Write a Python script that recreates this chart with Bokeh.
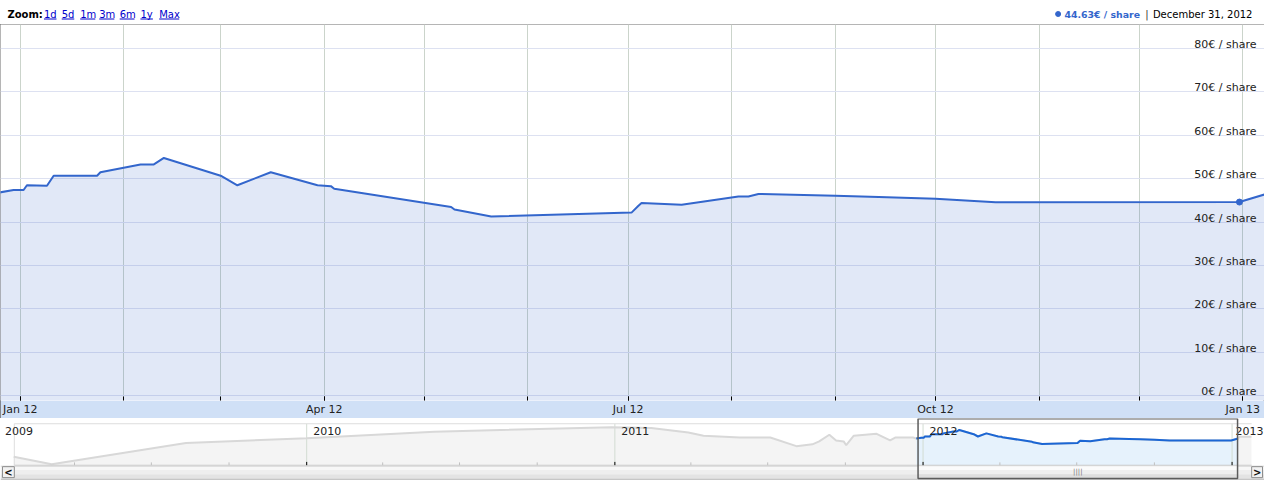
import pandas as pd
from bokeh.plotting import figure
from bokeh.layouts import column
from bokeh.models import Range1d, FixedTicker, DatetimeTickFormatter
from bokeh.core.properties import value
from bokeh.embed import file_html
from bokeh.resources import INLINE

# ---------------- data ----------------
hist_dates = ["2009-01-19", "2009-03-05", "2009-08-11", "2010-01-01", "2010-04-16",
              "2010-06-01", "2010-12-28", "2011-02-13", "2011-03-29", "2011-04-16",
              "2011-05-29", "2011-07-04", "2011-08-04", "2011-08-23", "2011-08-31",
              "2011-09-12", "2011-09-20", "2011-09-29", "2011-10-02", "2011-10-11",
              "2011-11-07", "2011-11-23", "2011-11-29", "2011-12-20"]
hist_values = [29.1, 21.8, 42.2, 46.8, 51.1, 53.0, 57.5, 56.6, 52.3, 49.3,
               47.5, 47.5, 39.2, 41.0, 43.8, 50.2, 44.7, 43.8, 40.1, 49.3,
               51.1, 44.7, 47.5, 47.5]

price_dates = ["2011-12-24", "2011-12-30", "2012-01-02", "2012-01-03", "2012-01-09",
               "2012-01-11", "2012-01-24", "2012-01-25", "2012-02-06", "2012-02-10",
               "2012-02-13", "2012-03-01", "2012-03-06", "2012-03-16", "2012-03-30",
               "2012-04-03", "2012-04-04", "2012-05-09", "2012-05-10", "2012-05-21",
               "2012-07-02", "2012-07-04", "2012-07-05", "2012-07-17", "2012-08-03",
               "2012-08-06", "2012-08-09", "2012-09-01", "2012-09-14", "2012-10-01",
               "2012-10-19", "2012-12-31", "2013-01-08"]
price_values = [46.6, 47.4, 47.4, 48.5, 48.4, 50.7, 50.7, 51.5, 53.3, 53.3,
                54.8, 50.7, 48.5, 51.5, 48.5, 48.3, 47.7, 43.5, 42.9, 41.3,
                42.2, 43.7, 44.4, 44.0, 45.9, 45.9, 46.5, 46.1, 45.8, 45.4,
                44.6, 44.63, 46.5]

after_dates = ["2013-01-10", "2013-01-24"]
after_values = [48.2, 48.3]

current_date = ["2012-12-31"]
current_value = [44.63]

y_ticks = [0, 10, 20, 30, 40, 50, 60, 70, 80]
y_labels = [f"{v}€ / share" for v in y_ticks]
zoom_links = ["1d", "5d", "1m", "3m", "6m", "1y", "Max"]
nav_year_labels = ["2009", "2010", "2011", "2012", "2013"]
header_value = "44.63€ / share"
header_date = "December 31, 2012"

# ---------------- layout helpers ----------------
W = 1264
HEAD_H, MAIN_H, NAV_H = 24, 394, 62
SX = W / 1280.0
FONT = "DejaVu Sans"


def ms(ts):
    return pd.Timestamp(ts).value / 1e6


JAN12 = pd.Timestamp("2012-01-01")


def main_date(ref_x):
    return JAN12 + pd.Timedelta(days=(ref_x - 20) / 3.3825)


def main_val(ref_y):
    return (410 - ref_y) / 4.5


BASE09 = pd.Timestamp("2009-01-01")


def nav_date(ref_x):
    return BASE09 + pd.Timedelta(days=(ref_x + 2) / 0.855)


def nav_val(ref_y):
    return 54.8 - (ref_y - 443) / 1.09


main_x0, main_x1 = main_date(0), main_date(1280)

# ---------------- header ----------------
h = figure(width=W, height=HEAD_H, x_range=Range1d(0, W), y_range=Range1d(0, HEAD_H),
           min_border=0, outline_line_color=None, toolbar_location=None,
           output_backend="svg", x_axis_location=None, y_axis_location=None)
h.grid.visible = False
ymid = HEAD_H - 13.5
h.text(x=[7 * SX], y=[ymid], text=["Zoom:"], text_font=value(FONT), text_font_size="10px",
       text_font_style="bold", text_color="#000000", text_baseline="middle", text_align="left")
link_x = [44, 62, 80.7, 100, 120.7, 141.7, 160.7]
link_w = [12.7, 12.7, 15.3, 15.3, 15.0, 12.6, 20.3]
h.text(x=[v * SX for v in link_x], y=[ymid] * len(zoom_links), text=zoom_links,
       text_font=value(FONT), text_font_size="10px", text_color="#0000cc",
       text_baseline="middle", text_align="left")
h.segment(x0=[v * SX for v in link_x], x1=[(v + w) * SX for v, w in zip(link_x, link_w)],
          y0=[HEAD_H - 18.5] * len(link_x), y1=[HEAD_H - 18.5] * len(link_x),
          line_color="#0000cc", line_width=1)
h.scatter(x=[1071 * SX], y=[ymid], size=5, color="#3366cc")
h.text(x=[1154 * SX], y=[ymid], text=[header_value], text_font=value(FONT),
       text_font_size="9.4px", text_font_style="bold", text_color="#3366cc",
       text_baseline="middle", text_align="right")
h.text(x=[1161 * SX], y=[ymid], text=["|"], text_font=value(FONT), text_font_size="10px",
       text_color="#333333", text_baseline="middle", text_align="center")
h.text(x=[1167 * SX], y=[ymid], text=[header_date], text_font=value(FONT),
       text_font_size="10px", text_color="#000000", text_baseline="middle", text_align="left")

# ---------------- main chart ----------------
p = figure(width=W, height=MAIN_H, x_axis_type="datetime",
           x_range=Range1d(ms(main_x0), ms(main_x1)),
           y_range=Range1d(main_val(415), main_val(25)),
           min_border=0, min_border_bottom=16, border_fill_color="#d0e0f6",
           background_fill_color="#ffffff", outline_line_color=None,
           toolbar_location=None, output_backend="svg", y_axis_location=None)
p.styles = {"outline": "1px solid #6a6a6a", "outline-offset": "-1px"}

months = [ms(t) for t in pd.date_range("2012-01-01", "2013-01-01", freq="MS")]
quarters = [ms(t) for t in pd.date_range("2012-01-01", "2013-01-01", freq="QS")]

p.xgrid.ticker = FixedTicker(ticks=months)
p.xgrid.grid_line_color = "#cbd4cb"
p.ygrid.ticker = FixedTicker(ticks=y_ticks)
p.ygrid.grid_line_color = "#dde1f1"

p.xaxis.ticker = FixedTicker(ticks=quarters, minor_ticks=months)
p.xaxis.formatter = DatetimeTickFormatter(days="%b %y", months="%b %y", years="%b %y",
                                          hours="%b %y", minutes="%b %y")
p.xaxis.major_tick_in = 4
p.xaxis.major_tick_out = 0
p.xaxis.minor_tick_in = 4
p.xaxis.minor_tick_out = 0
p.xaxis.major_tick_line_color = "#000000"
p.xaxis.minor_tick_line_color = "#000000"
p.xaxis.axis_line_color = None
p.xaxis.major_label_standoff = 2
p.xaxis.major_label_text_font = FONT
p.xaxis.major_label_text_font_size = "11px"
p.xaxis.major_label_text_color = "#222222"

px = pd.to_datetime(price_dates)
p.varea(x=px, y1=main_val(415), y2=price_values, fill_color="#3366cc", fill_alpha=0.15)
p.line(x=px, y=price_values, line_color="#3366cc", line_width=2)
p.scatter(x=pd.to_datetime(current_date), y=current_value, size=6, color="#3366cc")
p.text(x=[ms(main_x1)] * len(y_ticks), y=y_ticks, text=y_labels, text_font=value(FONT),
       text_font_size="11px", text_color="#222222", text_align="right",
       text_baseline="alphabetic", x_offset=-8, y_offset=-4)

# ---------------- navigator ----------------
n = figure(width=W, height=NAV_H, x_axis_type="datetime",
           x_range=Range1d(ms(nav_date(0)), ms(nav_date(1280))),
           y_range=Range1d(nav_val(496), nav_val(431)),
           min_border=0, outline_line_color=None, toolbar_location=None,
           output_backend="svg", x_axis_location=None, y_axis_location=None)
n.grid.visible = False

all_dates = pd.to_datetime(hist_dates + price_dates + after_dates)
all_values = hist_values + price_values + after_values
base_v = nav_val(480)
top_v = nav_val(436.5)
nav_l, nav_r = ms(nav_date(14)), ms(nav_date(1267))

n.varea(x=all_dates, y1=base_v, y2=all_values, fill_color="#f4f4f4")
n.varea(x=px, y1=base_v, y2=price_values, fill_color="#e6f2fc")

year_ms = [ms(t) for t in pd.date_range("2009-01-01", "2013-01-01", freq="YS")]
n.segment(x0=year_ms[1:], x1=year_ms[1:], y0=[top_v] * 4, y1=[base_v] * 4,
          line_color="#d2dcd2", line_width=1)
n.segment(x0=[nav_l, nav_l], x1=[nav_r, nav_l], y0=[top_v, top_v], y1=[top_v, base_v],
          line_color="#dedede", line_width=1)

n.line(x=all_dates, y=all_values, line_color="#d8d8d8", line_width=2)
n.line(x=px, y=price_values, line_color="#1b66d4", line_width=2)

n.segment(x0=[nav_l], x1=[nav_r], y0=[base_v], y1=[base_v], line_color="#c8c8c8", line_width=1)
q_ms = [ms(t) for t in pd.date_range("2009-01-01", "2013-01-01", freq="QS") if t.month != 1]
n.segment(x0=q_ms, x1=q_ms, y0=[base_v] * len(q_ms), y1=[nav_val(477)] * len(q_ms),
          line_color="#c0c0c0", line_width=1)
n.segment(x0=year_ms[1:], x1=year_ms[1:], y0=[base_v] * 4, y1=[nav_val(476.5)] * 4,
          line_color="#000000", line_width=1)
n.text(x=year_ms, y=[nav_val(444)] * 5, text=nav_year_labels, text_font=value(FONT),
       text_font_size="11px", text_color="#222222", text_baseline="middle",
       text_align="left", x_offset=[6.5, 6.5, 6.5, 6.5, 3.5])

# scrollbar
full_l, full_r = ms(nav_date(0)), ms(nav_date(1280))
n.quad(left=[full_l] * 3, right=[full_r] * 3,
       top=[nav_val(481), nav_val(485), nav_val(489.5)],
       bottom=[nav_val(485), nav_val(489.5), nav_val(494)],
       fill_color=["#f7f7f7", "#eeeeee", "#e3e3e3"], line_color=None)
n.segment(x0=[full_l], x1=[full_r], y0=[nav_val(481)], y1=[nav_val(481)],
          line_color="#d4d4d4", line_width=1)
n.quad(left=[full_l], right=[full_r], top=[nav_val(494)], bottom=[nav_val(496)],
       fill_color="#c6c6c6", line_color=None)
win_l, win_r = ms(main_x0), ms(main_x1)
n.quad(left=[win_l] * 3, right=[win_r] * 3,
       top=[nav_val(481), nav_val(485), nav_val(489.5)],
       bottom=[nav_val(485), nav_val(489.5), nav_val(494)],
       fill_color=["#fbfbfb", "#efefef", "#dedede"], line_color=None)
n.text(x=[(win_l + win_r) / 2], y=[nav_val(487.5)], text=["||||"], text_font=value(FONT),
       text_font_size="7px", text_color="#777777", text_align="center", text_baseline="middle")
btn_l = [ms(nav_date(2)), ms(nav_date(1267))]
btn_r = [ms(nav_date(14)), ms(nav_date(1278))]
n.quad(left=btn_l, right=btn_r, top=[nav_val(481.5)] * 2, bottom=[nav_val(493)] * 2,
       fill_color="#f2f2f2", line_color="#8c8c8c", line_width=1)
n.text(x=[(a + b) / 2 for a, b in zip(btn_l, btn_r)], y=[nav_val(487.5)] * 2, text=["<", ">"],
       text_font=value(FONT), text_font_size="10px", text_font_style="bold",
       text_color="#111111", text_align="center", text_baseline="middle")

# selection window frame
n.quad(left=[win_l], right=[win_r], top=[nav_val(431.3)], bottom=[nav_val(494)],
       fill_color=None, line_color="#5c5c5c", line_width=1.5)

layout = column(h, p, n, spacing=0)
open("out.html", "w").write(file_html(layout, INLINE))
